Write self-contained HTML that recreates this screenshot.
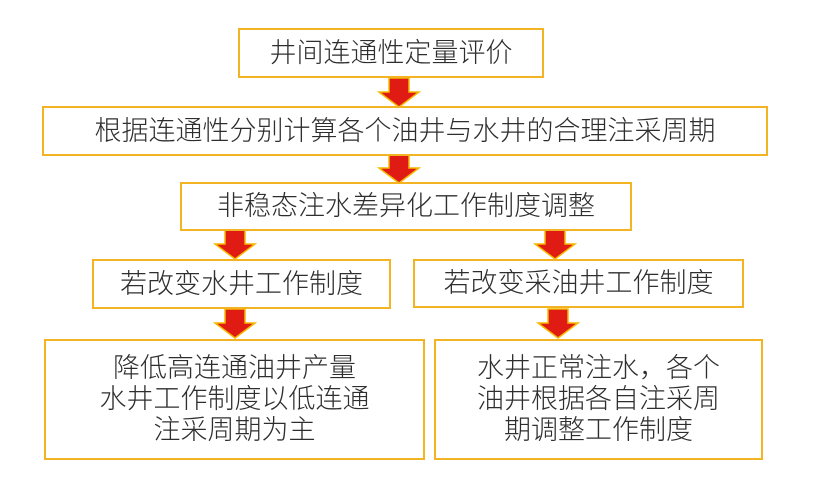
<!DOCTYPE html>
<html><head><meta charset="utf-8"><style>
body{margin:0;width:834px;height:479px;background:#fff;position:relative;overflow:hidden;font-family:"Liberation Sans","Noto Sans CJK SC",sans-serif;color:#2e2e2e}
.b{position:absolute;box-sizing:border-box;border:2.5px solid #f2b422;display:flex;align-items:center;justify-content:center;text-align:center;font-size:27px;font-weight:300;line-height:31px;background:#fff;white-space:nowrap}
svg{position:absolute;left:0;top:0}
</style></head><body>
<svg width="834" height="479">
<defs><g id="a"><polygon points="-10,0 10,0 10,14 20,14 0,29 -20,14 -10,14" fill="#e01b14" stroke="#f5b800" stroke-width="1.5"/></g></defs>
<use href="#a" x="399" y="78"/>
<use href="#a" x="399" y="154"/>
<use href="#a" x="235" y="230"/>
<use href="#a" x="555" y="230"/>
<use href="#a" x="235" y="309"/>
<use href="#a" x="558" y="309"/>
</svg>
<div class="b" style="left:238px;top:28px;width:306px;height:50px">井间连通性定量评价</div>
<div class="b" style="left:42px;top:106px;width:726px;height:50px">根据连通性分别计算各个油井与水井的合理注采周期</div>
<div class="b" style="left:180px;top:182px;width:452px;height:49px">非稳态注水差异化工作制度调整</div>
<div class="b" style="left:92px;top:259px;width:299px;height:50px">若改变水井工作制度</div>
<div class="b" style="left:413px;top:259px;width:331px;height:49px">若改变采油井工作制度</div>
<div class="b" style="left:44px;top:339px;width:381px;height:121px">降低高连通油井产量<br>水井工作制度以低连通<br>注采周期为主</div>
<div class="b" style="left:434px;top:339px;width:329px;height:121px">水井正常注水，各个<br>油井根据各自注采周<br>期调整工作制度</div>
</body></html>
